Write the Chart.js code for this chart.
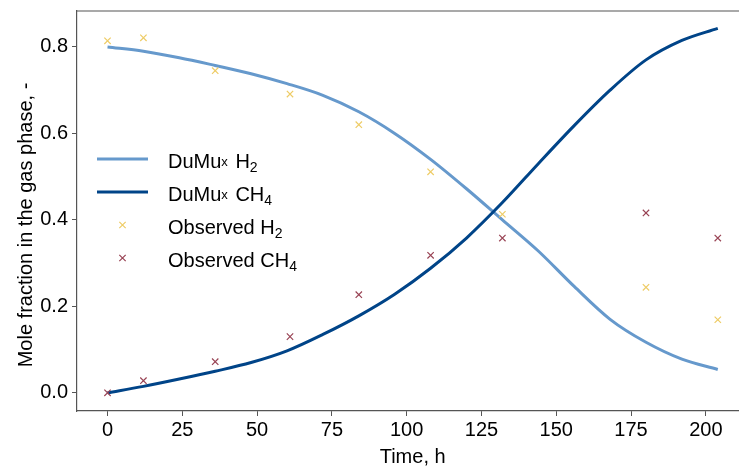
<!DOCTYPE html>
<html>
<head>
<meta charset="utf-8">
<script src="https://cdn.jsdelivr.net/npm/chart.js@4.4.0/dist/chart.umd.min.js"></script>
<style>
    html, body { margin: 0; padding: 0; background: #fff; overflow: hidden; }
    #wrap { width: 739px; height: 467px; overflow: hidden; }
    canvas { display: block; }
</style>
</head>
<body>
<div id="wrap"><canvas id="chart" width="754" height="467"></canvas></div>
<script>
// model curves (DuMux)
const modelTime = [0, 12, 24, 36, 48, 60, 72, 84, 96, 108, 120, 132, 144, 156, 168, 180, 192, 204];
const modelH2 = [0.800, 0.790, 0.775, 0.757, 0.738, 0.715, 0.688, 0.650, 0.600, 0.540, 0.472, 0.400, 0.328, 0.246, 0.170, 0.117, 0.078, 0.054];
const modelCH4 = [0.000, 0.015, 0.032, 0.050, 0.070, 0.097, 0.135, 0.178, 0.228, 0.288, 0.358, 0.440, 0.530, 0.618, 0.700, 0.770, 0.815, 0.843];

// measured points
const obsTime = [0, 12, 36, 61, 84, 108, 132, 180, 204];
const obsH2 = [0.814, 0.821, 0.745, 0.691, 0.620, 0.511, 0.413, 0.244, 0.169];
const obsCH4 = [0.000, 0.028, 0.072, 0.130, 0.227, 0.318, 0.358, 0.416, 0.358];

const xTicks = [0, 25, 50, 75, 100, 125, 150, 175, 200];
const yTicks = [0, 0.2, 0.4, 0.6, 0.8];

const FONT = '"Liberation Sans", Arial, sans-serif';
const COLORS = { h2: '#6699CC', ch4: '#004488', obsH2: '#EECC66', obsCH4: '#994455' };

const toPts = (xs, ys) => xs.map((x, i) => ({ x: x, y: ys[i] }));

// label pieces: [text, fontSize, yShift]
const legendItems = [
    { kind: 'line', color: COLORS.h2, parts: [['DuMu', 20, 0], ['x', 13, -2], [' H', 20, 0], ['2', 14, 4]] },
    { kind: 'line', color: COLORS.ch4, parts: [['DuMu', 20, 0], ['x', 13, -2], [' CH', 20, 0], ['4', 14, 4]] },
    { kind: 'point', color: COLORS.obsH2, parts: [['Observed H', 20, 0], ['2', 14, 4]] },
    { kind: 'point', color: COLORS.obsCH4, parts: [['Observed CH', 20, 0], ['4', 14, 4]] }
];

// keep label overhang from shrinking the plot area
const noPad = s => { s.paddingTop = 0; s.paddingBottom = 0; s.paddingLeft = 0; s.paddingRight = 0; };

const extras = {
    id: 'extras',
    afterDraw(chart) {
        const ctx = chart.ctx;
        const a = chart.chartArea;
        ctx.save();
        // top spine
        ctx.strokeStyle = '#555';
        ctx.lineWidth = 1.2;
        ctx.beginPath();
        ctx.moveTo(a.left, a.top);
        ctx.lineTo(a.right, a.top);
        ctx.stroke();

        // y title
        ctx.fillStyle = '#000';
        ctx.font = '20px ' + FONT;
        ctx.textAlign = 'center';
        ctx.textBaseline = 'alphabetic';
        ctx.translate(32, 225);
        ctx.rotate(-Math.PI / 2);
        ctx.fillText('Mole fraction in the gas phase, -', 0, 0);
        ctx.restore();

        // legend
        ctx.save();
        legendItems.forEach((item, i) => {
            const rowY = 159 + i * 33;
            if (item.kind === 'line') {
                ctx.strokeStyle = item.color;
                ctx.lineWidth = 3;
                ctx.beginPath();
                ctx.moveTo(97, rowY);
                ctx.lineTo(148, rowY);
                ctx.stroke();
            } else {
                ctx.strokeStyle = item.color;
                ctx.fillStyle = item.color;
                ctx.lineWidth = 1.2;
                Chart.helpers.drawPoint(ctx, { pointStyle: 'crossRot', radius: 4.5, rotation: 0, borderWidth: 1.2 }, 122.5, rowY);
            }
            let x = 168;
            ctx.fillStyle = '#000';
            ctx.textAlign = 'left';
            ctx.textBaseline = 'alphabetic';
            item.parts.forEach(p => {
                ctx.font = p[1] + 'px ' + FONT;
                ctx.fillText(p[0], x, rowY + 9 + p[2]);
                x += ctx.measureText(p[0]).width + (p[1] === 13 ? 2 : 0);
            });
        });
        ctx.restore();
    }
};

new Chart(document.getElementById('chart'), {
    type: 'scatter',
    data: {
        datasets: [
            { label: 'DuMux H2', data: toPts(modelTime, modelH2), showLine: true, borderColor: COLORS.h2, borderWidth: 3, pointRadius: 0, cubicInterpolationMode: 'monotone', order: 4 },
            { label: 'DuMux CH4', data: toPts(modelTime, modelCH4), showLine: true, borderColor: COLORS.ch4, borderWidth: 3, pointRadius: 0, cubicInterpolationMode: 'monotone', order: 3 },
            { label: 'Observed H2', data: toPts(obsTime, obsH2), pointStyle: 'crossRot', pointRadius: 4.5, borderWidth: 1.2, borderColor: COLORS.obsH2, backgroundColor: COLORS.obsH2, order: 2 },
            { label: 'Observed CH4', data: toPts(obsTime, obsCH4), pointStyle: 'crossRot', pointRadius: 4.5, borderWidth: 1.2, borderColor: COLORS.obsCH4, backgroundColor: COLORS.obsCH4, order: 1 }
        ]
    },
    options: {
        responsive: false,
        animation: false,
        devicePixelRatio: 1,
        layout: { padding: { top: 11, left: 0, right: 0, bottom: 0 } },
        plugins: { legend: { display: false }, tooltip: { enabled: false } },
        scales: {
            x: {
                type: 'linear', min: -10.2, max: 214.2,
                afterBuildTicks: s => { s.ticks = xTicks.map(v => ({ value: v })); },
                afterFit: s => { s.height = 56; noPad(s); },
                grid: { drawOnChartArea: false, drawTicks: true, tickLength: 5, color: '#555', lineWidth: 1 },
                border: { color: '#555', width: 1.2 },
                ticks: { color: '#000', font: { family: FONT, size: 20 }, padding: 2, maxRotation: 0, autoSkip: false },
                title: { display: true, text: 'Time, h', color: '#000', font: { family: FONT, size: 20, lineHeight: 1.0 }, padding: 0 }
            },
            y: {
                type: 'linear', min: -0.042, max: 0.883,
                afterBuildTicks: s => { s.ticks = yTicks.map(v => ({ value: v })); },
                afterFit: s => { s.width = 77; noPad(s); },
                grid: { drawOnChartArea: false, drawTicks: true, tickLength: 5, color: '#555', lineWidth: 1 },
                border: { color: '#555', width: 1.2 },
                ticks: { color: '#000', font: { family: FONT, size: 20 }, padding: 4, autoSkip: false, callback: v => v.toFixed(1) }
            }
        }
    },
    plugins: [extras]
});
</script>
</body>
</html>
